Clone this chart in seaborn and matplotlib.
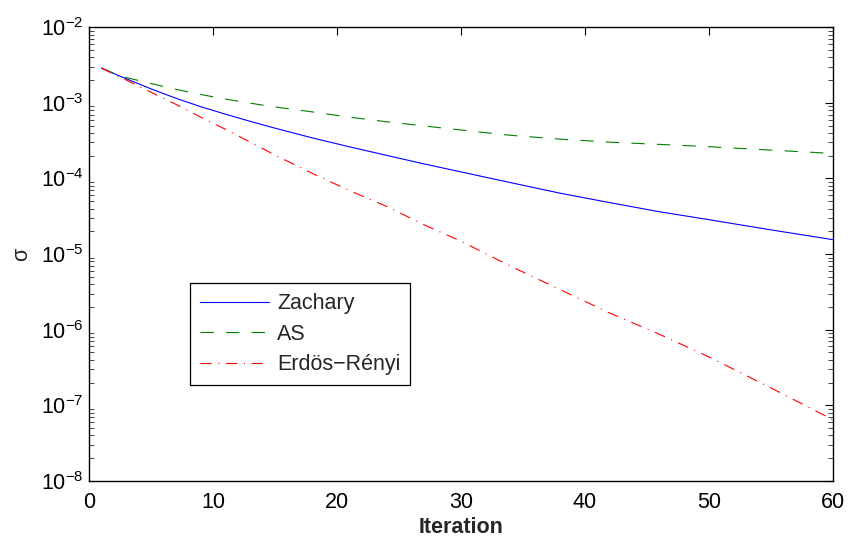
import matplotlib
matplotlib.use("Agg")
import matplotlib.pyplot as plt
import numpy as np
import pandas as pd
import seaborn as sns
from matplotlib.ticker import LogLocator, LogFormatterMathtext, NullFormatter

# values
iterations = [1, 2, 3, 5, 7, 9, 11, 13, 15, 18, 21, 24, 27, 30, 34, 38, 42, 46, 50, 55, 60]
zachary = [2.88e-3, 2.44e-3, 2.08e-3, 1.53e-3, 1.15e-3, 8.9e-4, 7.08e-4, 5.69e-4,
           4.62e-4, 3.44e-4, 2.62e-4, 2.02e-4, 1.56e-4, 1.22e-4, 8.81e-5, 6.38e-5,
           4.79e-5, 3.63e-5, 2.85e-5, 2.09e-5, 1.55e-5]
as_net = [2.88e-3, 2.45e-3, 2.16e-3, 1.80e-3, 1.51e-3, 1.29e-3, 1.12e-3, 9.89e-4,
          8.81e-4, 7.59e-4, 6.46e-4, 5.62e-4, 4.95e-4, 4.37e-4, 3.72e-4, 3.31e-4,
          3.02e-4, 2.82e-4, 2.63e-4, 2.37e-4, 2.14e-4]
erdos = [2.88e-3, 2.40e-3, 2.0e-3, 1.38e-3, 9.55e-4, 6.46e-4, 4.47e-4, 3.02e-4,
         2.04e-4, 1.17e-4, 6.92e-5, 4.27e-5, 2.45e-5, 1.48e-5, 6.92e-6, 3.39e-6,
         1.66e-6, 8.71e-7, 4.37e-7, 1.70e-7, 6.46e-8]
names = ['Zachary', 'AS', 'Erdös\u2212Rényi']

n = len(iterations)
df = pd.DataFrame({
    'Iteration': iterations * 3,
    'sigma': zachary + as_net + erdos,
    'network': [names[0]] * n + [names[1]] * n + [names[2]] * n,
})

sns.set_style('white')
plt.rcParams['font.family'] = ['Liberation Sans', 'DejaVu Sans']
plt.rcParams['mathtext.fontset'] = 'custom'
plt.rcParams['mathtext.rm'] = 'Liberation Sans'
plt.rcParams['mathtext.it'] = 'Liberation Sans'
plt.rcParams['mathtext.bf'] = 'Liberation Sans:bold'

fig = plt.figure(figsize=(8.48, 5.44), dpi=100)
ax = fig.add_axes([0.105, 0.116, 0.877, 0.834])

palette = {names[0]: '#0000ff', names[1]: '#008000', names[2]: '#ff0000'}
dashes = {names[0]: '', names[1]: (12, 11), names[2]: (10, 6, 1, 6)}
sns.lineplot(data=df, x='Iteration', y='sigma', hue='network', style='network',
             palette=palette, dashes=dashes, linewidth=0.8, ax=ax)

ax.set_yscale('log')
ax.set_xlim(0, 60)
ax.set_ylim(1e-8, 1e-2)
ax.set_xticks(range(0, 61, 10))
ax.yaxis.set_major_locator(LogLocator(base=10, numticks=10))
ax.yaxis.set_major_formatter(LogFormatterMathtext())
ax.yaxis.set_minor_locator(LogLocator(base=10, subs=np.arange(2, 10), numticks=20))
ax.yaxis.set_minor_formatter(NullFormatter())

for sp in ax.spines.values():
    sp.set_color('black')
    sp.set_linewidth(1.0)

ax.tick_params(axis='both', which='major', direction='in', length=5.5, width=0.8,
               top=True, right=True, labelsize=15.5, colors='black')
ax.tick_params(axis='y', which='minor', direction='in', length=3.5, width=0.6,
               left=True, right=True)
ax.tick_params(axis='x', which='major', pad=8)
ax.tick_params(axis='y', which='major', pad=4)

ax.set_xlabel('Iteration', fontsize=15.5, fontweight='bold', labelpad=3)
ax.set_ylabel('σ', fontsize=15.5, labelpad=6)

leg = ax.legend(loc='lower left', bbox_to_anchor=(0.136, 0.211), fontsize=15.5,
                frameon=True, fancybox=False, edgecolor='black', framealpha=1,
                handlelength=3.2, borderpad=0.45, labelspacing=0.45, handletextpad=0.4,
                borderaxespad=0)
leg.get_frame().set_linewidth(0.9)

plt.savefig('out.png', dpi=100)
plt.close()
